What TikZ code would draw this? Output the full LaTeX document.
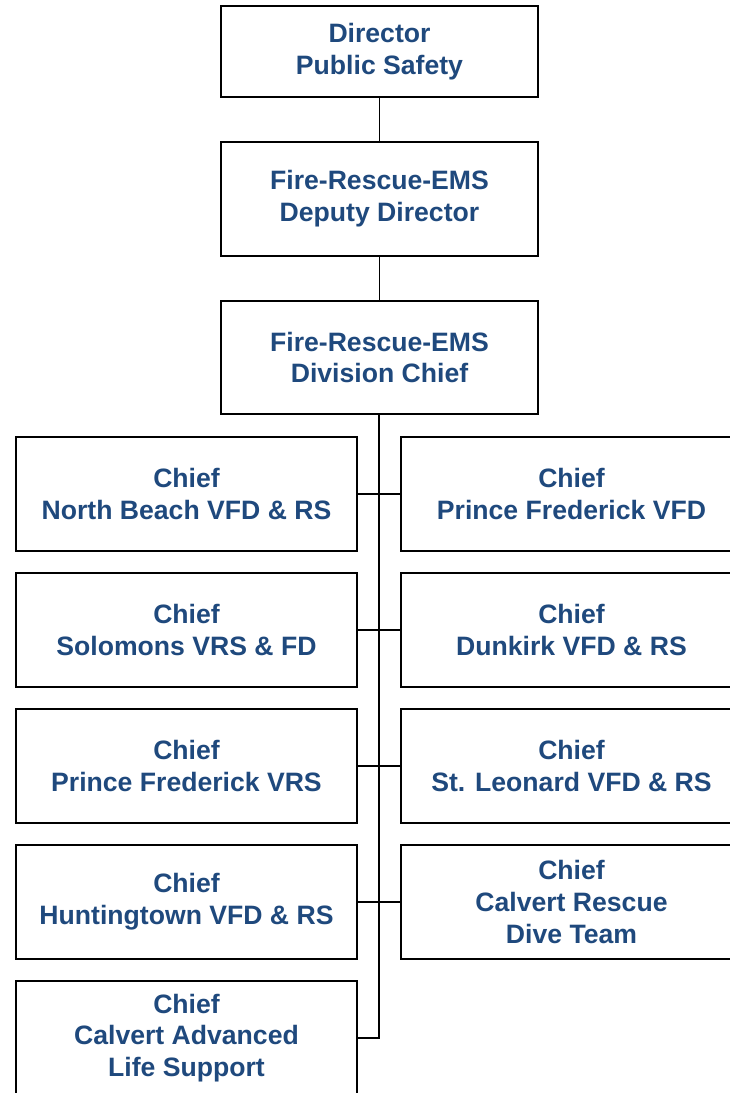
\documentclass[tikz,border=0pt]{standalone}
\usepackage{fontspec}
\setmainfont{Liberation Sans}
\usepackage{xcolor}

\begin{document}
\begin{tikzpicture}[x=1pt,y=-1pt,
    chartbox/.style={draw=black,line width=1.3pt,fill=white,inner sep=0pt,
        align=center,text=NavyText,font=\fontsize{26.6}{31.8}\selectfont\bfseries},
    topbox/.style={chartbox,minimum width=317pt},
    chiefbox/.style={chartbox,minimum width=341pt,minimum height=114pt},
    link/.style={draw=black,line width=1.7pt}]
    \definecolor{NavyText}{HTML}{1F497D}
    \useasboundingbox (0,0) rectangle (730,1093);
    \clip (0,0) rectangle (730,1093);
    \node[topbox,minimum height=91pt]  (director) at (379.5,51.5) {Director\\Public Safety};
    \node[topbox,minimum height=114pt] (deputy)   at (379.5,199)  {Fire-Rescue-EMS\\Deputy Director};
    \node[topbox,minimum height=113pt] (division) at (379.5,357.5) {Fire-Rescue-EMS\\Division Chief};
    \coordinate (trunk) at (379,1038);
    % left column
    \node[chiefbox] (northbeach)  at (186.5,494)  {Chief\\North Beach VFD \& RS};
    \node[chiefbox] (solomons)    at (186.5,630)  {Chief\\Solomons VRS \& FD};
    \node[chiefbox] (pfvrs)       at (186.5,766)  {Chief\\Prince Frederick VRS};
    \node[chiefbox] (huntingtown) at (186.5,902)  {Chief\\Huntingtown VFD \& RS};
    \node[chiefbox] (calvertals)  at (186.5,1038) {Chief\\Calvert Advanced\\Life Support};
    % right column
    \node[chiefbox] (pfvfd)       at (571.5,494)  {Chief\\Prince Frederick VFD};
    \node[chiefbox] (dunkirk)     at (571.5,630)  {Chief\\Dunkirk VFD \& RS};
    \node[chiefbox] (stleonard)   at (571.5,766)  {Chief\\St. Leonard VFD \& RS};
    \node[chiefbox] (divers)      at (571.5,902)  {Chief\\Calvert Rescue\\Dive Team};
    \draw[link] (director.south) -- (deputy.north);
    \draw[link] (deputy.south) -- (division.north);
    \draw[link] (division.south -| trunk) -- (trunk) -- (calvertals.east);
    \draw[link] (northbeach.east) -- (pfvfd.west);
    \draw[link] (solomons.east) -- (dunkirk.west);
    \draw[link] (pfvrs.east) -- (stleonard.west);
    \draw[link] (huntingtown.east) -- (divers.west);
\end{tikzpicture}
\end{document}
